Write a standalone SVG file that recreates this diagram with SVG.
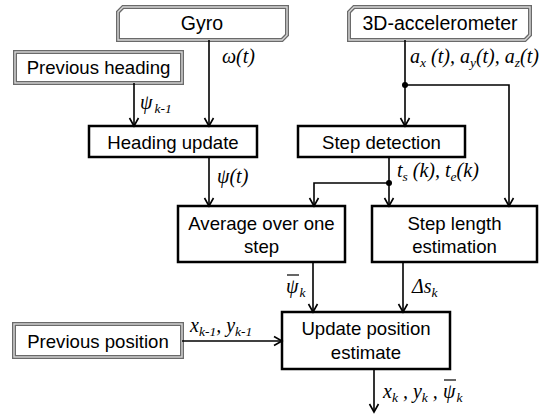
<svg xmlns="http://www.w3.org/2000/svg" width="544" height="414" viewBox="0 0 544 414">
<style>
.box{fill:#fff;stroke:#000;stroke-width:2.5}
.dbo{fill:#fff;stroke:#6a6a6a;stroke-width:4}
.dbi{fill:none;stroke:#d8d8d8;stroke-width:1.4}
.t{font-family:"Liberation Sans",Arial,sans-serif;font-size:18.6px;fill:#000;text-anchor:middle}
.tb{font-family:"Liberation Sans",Arial,sans-serif;font-size:19.5px;fill:#000;text-anchor:middle}
.m{font-family:"Liberation Serif","Times New Roman",serif;font-style:italic;font-size:20px;fill:#000}
.s{font-size:13.5px}
.c{fill:none;stroke:#000;stroke-width:1.6}
.ov{stroke:#000;stroke-width:1.2}
</style>
<defs>
<marker id="ah" markerUnits="userSpaceOnUse" markerWidth="12" markerHeight="12" viewBox="-10 -6 12 12" refX="0" refY="0" orient="auto">
<path d="M-8,-4.5 L0,0 L-8,4.5" fill="none" stroke="#000" stroke-width="1.6"/>
</marker>
</defs>

<g id="gyro">
<path class="dbo" d="M123,7 H287 V35 L282,40 H118 V12 Z"/>
<path class="dbi" d="M123,7 H287 V35 L282,40 H118 V12 Z"/>
<text class="tb" x="202" y="30">Gyro</text>
</g>

<g id="accelerometer">
<path class="dbo" d="M354,7 H530 V35 L525,40 H349 V12 Z"/>
<path class="dbi" d="M354,7 H530 V35 L525,40 H349 V12 Z"/>
<text class="tb" x="440" y="30">3D-accelerometer</text>
</g>

<g id="previous-heading">
<rect class="dbo" x="15" y="52" width="167" height="31"/>
<rect class="dbi" x="15" y="52" width="167" height="31"/>
<text class="t" x="98.5" y="74">Previous heading</text>
</g>

<g id="heading-update">
<rect class="box" x="89" y="126" width="168" height="31"/>
<text class="t" x="173" y="148.5">Heading update</text>
</g>

<g id="step-detection">
<rect class="box" x="298" y="126" width="167" height="31"/>
<text class="t" x="381.5" y="148.5">Step detection</text>
</g>

<g id="average">
<rect class="box" x="178" y="206" width="167" height="56"/>
<text class="t" x="261.5" y="230">Average over one</text>
<text class="t" x="261.5" y="253">step</text>
</g>

<g id="step-length">
<rect class="box" x="372" y="206" width="165" height="56"/>
<text class="t" x="454.5" y="230">Step length</text>
<text class="t" x="454.5" y="253">estimation</text>
</g>

<g id="previous-position">
<rect class="dbo" x="14" y="324" width="168" height="33"/>
<rect class="dbi" x="14" y="324" width="168" height="33"/>
<text class="t" x="98" y="348">Previous position</text>
</g>

<g id="update-position">
<rect class="box" x="282" y="312" width="168" height="57"/>
<text class="t" x="366" y="335">Update position</text>
<text class="t" x="366" y="359">estimate</text>
</g>

<g id="connectors">
<path class="c" d="M134,83 V126" marker-end="url(#ah)"/>
<path class="c" d="M209,40 V126" marker-end="url(#ah)"/>
<path class="c" d="M405,40 V126" marker-end="url(#ah)"/>
<path class="c" d="M405,85 H509 V206" marker-end="url(#ah)"/>
<circle cx="405" cy="85" r="3" fill="#000"/>
<path class="c" d="M209,157 V206" marker-end="url(#ah)"/>
<path class="c" d="M389,157 V206" marker-end="url(#ah)"/>
<path class="c" d="M389,183 H314 V206" marker-end="url(#ah)"/>
<circle cx="389" cy="183" r="3" fill="#000"/>
<path class="c" d="M313,262 V312" marker-end="url(#ah)"/>
<path class="c" d="M403,262 V312" marker-end="url(#ah)"/>
<path class="c" d="M182,341 H282" marker-end="url(#ah)"/>
<path class="c" d="M374,369 V412" marker-end="url(#ah)"/>
</g>

<g id="labels">
<text class="m" x="140" y="109">ψ<tspan class="s" dx="2" dy="4">k-1</tspan></text>
<text class="m" x="222" y="63">ω(t)</text>
<text class="m" x="410" y="63">a<tspan class="s" dy="4">x</tspan><tspan dy="-4"> (t), a</tspan><tspan class="s" dy="4">y</tspan><tspan dy="-4">(t), a</tspan><tspan class="s" dy="4">z</tspan><tspan dy="-4">(t)</tspan></text>
<text class="m" x="217" y="183">ψ(t)</text>
<text class="m" x="397" y="177">t<tspan class="s" dy="4">s</tspan><tspan dy="-4"> (k), t</tspan><tspan class="s" dy="4">e</tspan><tspan dy="-4">(k)</tspan></text>
<text class="m" x="286" y="293">ψ<tspan class="s" dx="1" dy="4">k</tspan></text>
<line class="ov" x1="287" y1="275" x2="299" y2="275"/>
<text class="m" x="412" y="293">Δs<tspan class="s" dy="4">k</tspan></text>
<text class="m" x="190" y="332">x<tspan class="s" dy="4">k-1</tspan><tspan dy="-4">, y</tspan><tspan class="s" dy="4">k-1</tspan></text>
<text class="m" x="383" y="398">x<tspan class="s" dy="4">k</tspan><tspan dy="-4"> , y</tspan><tspan class="s" dy="4">k</tspan><tspan dy="-4"> ,</tspan></text>
<text class="m" x="443" y="398">ψ<tspan class="s" dx="1" dy="4">k</tspan></text>
<line class="ov" x1="444" y1="380" x2="456" y2="380"/>
</g>
</svg>
